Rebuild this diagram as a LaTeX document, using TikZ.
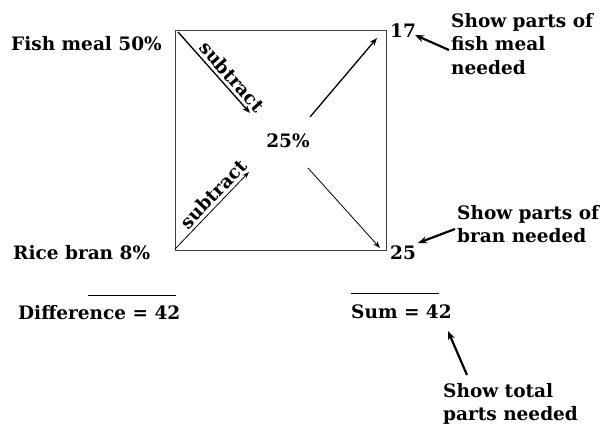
\documentclass[tikz,border=0pt]{standalone}
\usepackage{fontspec}
\setmainfont{DejaVu Serif}
\usetikzlibrary{arrows.meta}
\begin{document}
\begin{tikzpicture}[x=1pt,y=-1pt,
  lbl/.style={font=\fontsize{18.5}{23.5}\bfseries\selectfont, inner sep=0pt},
  mlbl/.style={lbl, align=left, anchor=north west},
  boxline/.style={draw=black!75, line width=1pt},
  thickarr/.style={line width=1.3pt, -{Stealth[length=8pt,width=6pt]}},
  thinarr/.style={line width=0.8pt, -{Stealth[length=7pt,width=5pt]}},
  notearr/.style={line width=2.2pt, -{Stealth[length=9pt,width=7pt]}},
  rule/.style={line width=1pt}]
\useasboundingbox (0,0) rectangle (604,426);
% box corners
\coordinate (tl) at (175,30);
\coordinate (tr) at (386,30);
\coordinate (br) at (386,250);
\coordinate (bl) at (175,250);
\draw[boxline] (tl) -- (tr) -- (br) -- (bl) -- cycle;
% inner arrow ends
\coordinate (a1s) at (178,32);
\coordinate (a1e) at (250,113);
\coordinate (a2s) at (310,117);
\coordinate (a2e) at (377,38);
\coordinate (a3s) at (175,249);
\coordinate (a3e) at (249,172);
\coordinate (a4s) at (308,168);
\coordinate (a4e) at (380,248);
\draw[thickarr] (a1s) -- node[lbl, sloped, above=3pt, pos=0.64] {subtract} (a1e);
\draw[thickarr] (a2s) -- (a2e);
\draw[thinarr] (a3s) -- node[lbl, sloped, above=3pt, pos=0.62] {subtract} (a3e);
\draw[thinarr] (a4s) -- (a4e);
% texts
\node[lbl, anchor=base west] (fish) at (11,50) {Fish meal 50\%};
\node[lbl, anchor=base west] (rice) at (13,259) {Rice bran 8\%};
\node[lbl] (mid) at (288,141) {25\%};
\node[lbl, anchor=base west] (n17) at (390,37) {17};
\node[lbl, anchor=base west] (n25) at (390,259) {25};
\node[mlbl] (show1) at (451,13) {Show parts of\\fish meal\\needed};
\node[mlbl] (show2) at (457,205) {Show parts of\\bran needed};
\node[mlbl] (show3) at (443,383) {Show total\\parts needed};
\node[lbl, anchor=base west] (diff) at (18,319) {Difference = 42};
\node[lbl, anchor=base west] (sum) at (351,318) {Sum = 42};
% rules
\coordinate (d1) at (88,295);
\coordinate (d2) at (176,295);
\coordinate (s1) at (351,293);
\coordinate (s2) at (439,293);
\draw[rule] (d1) -- (d2);
\draw[rule] (s1) -- (s2);
% note arrows
\coordinate (p1s) at (449,50);
\coordinate (p1e) at (415,35);
\coordinate (p2s) at (455,229);
\coordinate (p2e) at (418,243);
\coordinate (p3s) at (467,375);
\coordinate (p3e) at (448,331);
\draw[notearr] (p1s) -- (p1e);
\draw[notearr] (p2s) -- (p2e);
\draw[notearr] (p3s) -- (p3e);
\end{tikzpicture}
\end{document}
